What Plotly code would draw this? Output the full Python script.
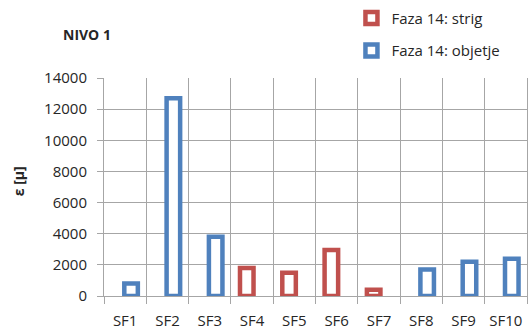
import plotly.graph_objects as go

# Strain per measuring point, level 1, phase 14
categories = ["SF1", "SF2", "SF3", "SF4", "SF5", "SF6", "SF7", "SF8", "SF9", "SF10"]
strig = [None, None, None, 1800, 1500, 2950, 400, None, None, None]
objetje = [800, 12700, 3800, None, None, None, None, 1700, 2200, 2400]
y_ticks = [0, 2000, 4000, 6000, 8000, 10000, 12000, 14000]
y_tick_text = ["0", "2000", "4000", "6000", "8000", "10000", "12000", "14000"]

RED = "#C0504D"
BLUE = "#4F81BD"
GRID = "#A6A6A6"
TEXT = "#262626"
FONT = "Open Sans"

pos = list(range(1, len(categories) + 1))
bar_w = 0.32

fig = go.Figure()
fig.add_trace(go.Bar(
    x=pos, y=strig, name="Faza 14: strig", legendgroup="a",
    width=bar_w, offset=-0.125 - bar_w / 2,
    marker=dict(color="white", line=dict(color=RED, width=4.5)),
))
fig.add_trace(go.Bar(
    x=pos, y=objetje, name="Faza 14: objetje", legendgroup="b",
    width=bar_w, offset=0.14 - bar_w / 2,
    marker=dict(color="white", line=dict(color=BLUE, width=4.5)),
))

fig.update_layout(
    width=529, height=331,
    margin=dict(l=103.5, r=1, t=77.5, b=32.7),
    paper_bgcolor="white", plot_bgcolor="white",
    barmode="overlay",
    font=dict(family=FONT, size=15, color=TEXT),
    showlegend=True,
    legend=dict(
        x=0.585, xanchor="left", y=1.35, yanchor="top",
        font=dict(family=FONT, size=15, color=TEXT),
        itemwidth=30, tracegroupgap=10, bgcolor="rgba(0,0,0,0)",
    ),
    xaxis=dict(
        range=[0.5, 10.5],
        tickvals=pos, ticktext=categories,
        ticks="", showgrid=False, zeroline=False,
        showline=True, linecolor=GRID, linewidth=1,
        ticklabelstandoff=11,
        minor=dict(tick0=0.5, dtick=1, showgrid=True, gridcolor=GRID,
                   gridwidth=1, ticks="outside", ticklen=7, tickcolor=GRID),
    ),
    yaxis=dict(
        range=[0, 14000], tickvals=y_ticks, ticktext=y_tick_text,
        showgrid=True, gridcolor=GRID, gridwidth=1,
        zeroline=True, zerolinecolor=GRID, zerolinewidth=1,
        showline=True, linecolor=GRID, linewidth=1, mirror=True,
        ticks="outside", ticklen=6, tickcolor=GRID,
        ticklabelstandoff=7,
    ),
    annotations=[
        dict(text="<b>NIVO 1</b>", xref="paper", yref="paper",
             x=-0.04, y=1.198, xanchor="center", yanchor="middle",
             showarrow=False, font=dict(family=FONT, size=14, color=TEXT)),
        dict(text="<b>ε [μ]</b>", xref="paper", yref="paper",
             x=-0.203, y=0.527, xanchor="center", yanchor="middle",
             textangle=-90, showarrow=False,
             font=dict(family=FONT, size=14, color=TEXT)),
    ],
)

fig.write_html("out.html")
